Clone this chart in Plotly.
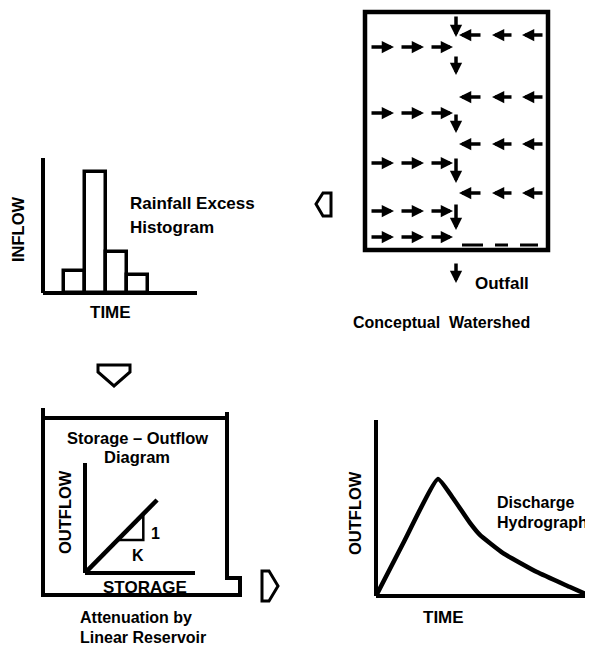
import plotly.graph_objects as go

W, H = 593, 647          # sheet (screen) size
OFF = 8                  # page body margin
FW, FH = W - OFF, H - OFF
FONT = "Liberation Sans, Arial, sans-serif"

# ---------------- data ----------------
# Rainfall excess histogram (inflow per time step)
hist_time = [1.5, 2.5, 3.5, 4.5]
hist_inflow = [0.9, 5.0, 1.7, 0.75]

# Discharge hydrograph
hydro_time = [0.0, 1.3, 2.87, 3.56, 4.35, 4.81, 5.88, 7.45, 8.98, 9.91]
hydro_outflow = [0.0, 3.1, 6.65, 5.57, 4.15, 3.47, 2.44, 1.36, 0.51, 0.0]

# Storage-outflow (linear reservoir)
res_storage = [0.0, 6.55]
res_outflow = [0.0, 6.64]
tri_storage = [3.0, 5.3, 5.3]
tri_outflow = [3.0, 3.0, 5.3]

# Conceptual watershed flow arrows (sheet units)
east_rows = [47, 113, 163, 211, 237]
east_tails = [370, 400, 430]
east_heads = [394, 424, 453]
west_rows = [35, 97, 144, 193]
west_tails = [482, 513, 544]
west_heads = [459, 492, 522]
channel_x = 456
channel_tails = [15, 55, 113, 157, 203]
channel_heads = [37, 75, 133, 183, 230]
outfall = (262, 283)
dash_starts = [462, 495, 520]
dash_ends = [483, 508, 538]


def dx(a, b):
    return [(a - OFF) / FW, (b - OFF) / FW]


def dy(top, bottom):
    return [1 - (bottom - OFF) / FH, 1 - (top - OFF) / FH]


fig = go.Figure()

# --- histogram ---
fig.add_trace(go.Bar(x=hist_time, y=hist_inflow, width=1.0, xaxis="x2", yaxis="y2",
                     marker=dict(color="white", line=dict(color="black", width=3.5)),
                     showlegend=False, hoverinfo="skip"))
# --- hydrograph ---
fig.add_trace(go.Scatter(x=hydro_time, y=hydro_outflow, xaxis="x3", yaxis="y3", mode="lines",
                         line=dict(color="black", width=4.5, shape="spline", smoothing=0.4),
                         showlegend=False, hoverinfo="skip"))
# --- storage outflow ---
fig.add_trace(go.Scatter(x=res_storage, y=res_outflow, xaxis="x4", yaxis="y4", mode="lines",
                         line=dict(color="black", width=4.5), showlegend=False, hoverinfo="skip"))
fig.add_trace(go.Scatter(x=tri_storage, y=tri_outflow, xaxis="x4", yaxis="y4", mode="lines",
                         line=dict(color="black", width=2.5), showlegend=False, hoverinfo="skip"))

hidden = dict(visible=False, fixedrange=True)
fig.update_layout(
    width=FW, height=FH, margin=dict(l=0, r=0, t=0, b=0),
    paper_bgcolor="white", plot_bgcolor="rgba(0,0,0,0)",
    xaxis=dict(range=[OFF, W], domain=[0, 1], **hidden),
    yaxis=dict(range=[H, OFF], domain=[0, 1], **hidden),
    xaxis2=dict(range=[0, 154 / 21], domain=dx(43, 197), anchor="y2", **hidden),
    yaxis2=dict(range=[0, 5.6], domain=dy(158, 293), anchor="x2", **hidden),
    xaxis3=dict(range=[0, 217 / 21.6], domain=dx(376, 593), anchor="y3", **hidden),
    yaxis3=dict(range=[0, 10], domain=dy(420, 596), anchor="x3", **hidden),
    xaxis4=dict(range=[0, 10], domain=dx(85, 195), anchor="y4", **hidden),
    yaxis4=dict(range=[0, 10], domain=dy(463, 573), anchor="x4", **hidden),
    bargap=0,
)

shapes = []
blk = dict(color="black", width=4)
# axis lines for the three small plots
for xr, yr in [("x2 domain", "y2 domain"), ("x3 domain", "y3 domain"), ("x4 domain", "y4 domain")]:
    shapes.append(dict(type="line", xref=xr, yref=yr, x0=0, y0=0, x1=1, y1=0, line=blk))
    shapes.append(dict(type="line", xref=xr, yref=yr, x0=0, y0=0, x1=0, y1=1, line=blk))

# watershed box
shapes.append(dict(type="rect", xref="x", yref="y", x0=365, y0=12, x1=548, y1=250,
                   line=dict(color="black", width=4.5)))
for a, b in zip(dash_starts, dash_ends):
    shapes.append(dict(type="line", xref="x", yref="y", x0=a, y0=245, x1=b, y1=245,
                       line=dict(color="black", width=3)))
# reservoir box
shapes.append(dict(type="path", xref="x", yref="y",
                   path="M43,408 L43,595 L240,595 L240,578 L227,578 L227,412",
                   line=blk))
shapes.append(dict(type="line", xref="x", yref="y", x0=43, y0=418, x1=227, y1=418, line=blk))

# hollow flow arrows
hol = dict(color="black", width=3)
shapes.append(dict(type="path", xref="x", yref="y",
                   path="M316,204 L323,193 L331,193 L331,216 L323,216 Z", line=hol, fillcolor="white"))
shapes.append(dict(type="path", xref="x", yref="y",
                   path="M98,365 L130,365 L130,372 L114,386 L98,372 Z", line=hol, fillcolor="white"))
shapes.append(dict(type="path", xref="x", yref="y",
                   path="M262,571 L269,571 L278,586 L269,601 L262,601 Z", line=hol, fillcolor="white"))
fig.update_layout(shapes=shapes)

ann = []


def arrow(hx, hy, tx, ty):
    ann.append(dict(x=hx, y=hy, ax=tx, ay=ty, xref="x", yref="y", axref="x", ayref="y",
                    text="", showarrow=True, arrowhead=2, arrowsize=0.7, arrowwidth=3.5,
                    arrowcolor="black", standoff=0, startstandoff=0))


for r in east_rows:
    for t, h in zip(east_tails, east_heads):
        arrow(h, r, t, r)
for r in west_rows:
    for t, h in zip(west_tails, west_heads):
        arrow(h, r, t, r)
for t, h in zip(channel_tails, channel_heads):
    arrow(channel_x, h, channel_x, t)
arrow(channel_x, outfall[1], channel_x, outfall[0])


def label(x, y, s, size=17, xanchor="center", angle=0):
    ann.append(dict(x=x, y=y, xref="x", yref="y", text=s, showarrow=False,
                    xanchor=xanchor, yanchor="middle", textangle=angle,
                    font=dict(family=FONT, size=size, color="black", weight="bold")))


label(128, 203, "Rainfall Excess", xanchor="left")
label(128, 227, "Histogram", xanchor="left")
label(110, 312, "TIME")
label(18, 230, "INFLOW", size=16.5, angle=-90)
label(473, 283, "Outfall", xanchor="left")
label(441, 322, "Conceptual  Watershed", size=16)
label(137, 438, "Storage – Outflow", size=16.5)
label(137, 457, "Diagram", size=16.5)
label(65, 512, "OUTFLOW", size=16.5, angle=-90)
label(155, 533, "1", size=16)
label(138, 555, "K", size=16)
label(145, 587, "STORAGE", size=17)
label(78, 617, "Attenuation by", size=16, xanchor="left")
label(78, 637, "Linear Reservoir", size=16, xanchor="left")
label(355, 513, "OUTFLOW", size=16.5, angle=-90)
label(495, 502, "Discharge", size=16, xanchor="left")
label(495, 522, "Hydrograph", size=16, xanchor="left")
label(443, 617, "TIME")

fig.update_layout(annotations=ann)
fig.write_html("out.html")
